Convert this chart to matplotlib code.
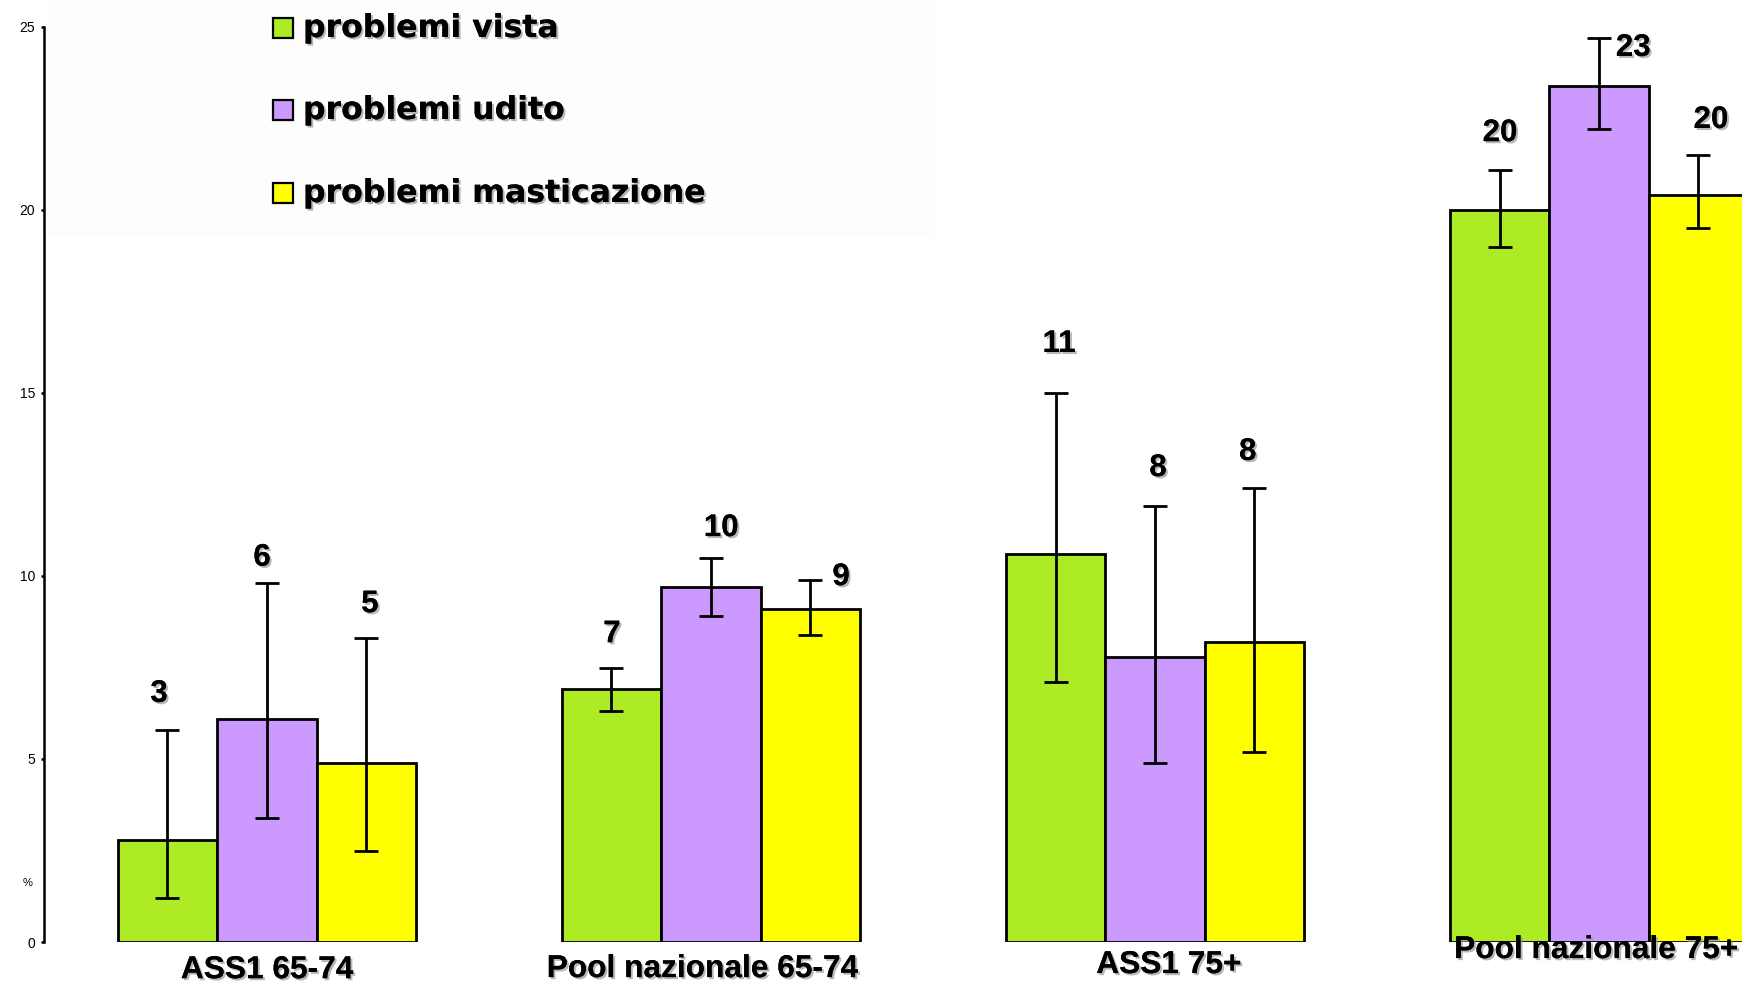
import numpy as np
import matplotlib
matplotlib.use("Agg")
import matplotlib.pyplot as plt
import matplotlib.patheffects as pe
from matplotlib.patches import Rectangle

plt.rcParams['font.family'] = ['Liberation Sans', 'DejaVu Sans']

# ---- data ----
categories = ["ASS1 65-74", "Pool nazionale 65-74", "ASS1 75+", "Pool nazionale 75+"]
series_names = ["problemi vista", "problemi udito", "problemi masticazione"]
vista = [2.8, 6.9, 10.6, 20.0]
vista_lo = [1.2, 6.3, 7.1, 19.0]
vista_hi = [5.8, 7.5, 15.0, 21.1]
udito = [6.1, 9.7, 7.8, 23.4]
udito_lo = [3.4, 8.9, 4.9, 22.2]
udito_hi = [9.8, 10.5, 11.9, 24.7]
mastic = [4.9, 9.1, 8.2, 20.4]
mastic_lo = [2.5, 8.4, 5.2, 19.5]
mastic_hi = [8.3, 9.9, 12.4, 21.5]
yticks = [0, 5, 10, 15, 20, 25]

colors = ["#ADEB24", "#CC99FF", "#FFFF00"]

# ---- layout (label placements) ----
label_dx = [[-0.019, 0.001, 0.008, 0.001],
            [-0.011, 0.023, 0.007, 0.077],
            [0.008, 0.069, -0.015, 0.028]]
label_y = [[6.78, 8.41, 16.34, 22.1],
           [10.5, 11.31, 12.95, 24.43],
           [9.23, 9.97, 13.39, 22.46]]
cat_y = [-0.77, -0.74, -0.63, -0.22]
cat_dx = [0.0, -0.019, 0.031, -0.006]

W, H = 1742, 984
fig = plt.figure(figsize=(W / 100, H / 100), dpi=100)
fig.patch.set_facecolor("white")

# very faint legend background
fig.patches.append(Rectangle((46 / W, 1 - 235 / H), (935 - 46) / W, 235 / H,
                             transform=fig.transFigure, facecolor="#fdfdfd",
                             edgecolor="none", zorder=-5))

ax = fig.add_axes([44 / W, 42 / H, 1 - 44 / W, 915 / H])
ax.set_facecolor("none")
ax.set_zorder(1)

x = np.arange(len(categories))
w = 0.224
data = [(vista, vista_lo, vista_hi), (udito, udito_lo, udito_hi), (mastic, mastic_lo, mastic_hi)]
shadow = [pe.withSimplePatchShadow(offset=(1.5, -1.5), shadow_rgbFace="#999999", alpha=0.7), pe.Normal()]

for i, (vals, lo, hi) in enumerate(data):
    vals = np.array(vals); lo = np.array(lo); hi = np.array(hi)
    pos = x + (i - 1) * w
    ax.bar(pos, vals, width=w, color=colors[i], edgecolor="black", linewidth=2, zorder=2)
    ax.errorbar(pos, vals, yerr=[vals - lo, hi - vals], fmt="none", ecolor="black",
                elinewidth=2, capsize=8.5, capthick=2, zorder=3)
    for j, v in enumerate(vals):
        ax.text(pos[j] + label_dx[i][j], label_y[i][j], f"{v:.0f}", ha="center", va="center",
                fontsize=22.5, fontweight="bold", path_effects=shadow, zorder=4)

for j, c in enumerate(categories):
    ax.text(x[j] + cat_dx[j], cat_y[j], c, ha="center", va="center", fontsize=22.8,
            fontweight="bold", path_effects=shadow, clip_on=False, zorder=5)

ax.set_xlim(-0.502, 3.322)
ax.set_ylim(0, 25)
ax.set_yticks(yticks)
ax.set_yticklabels([str(t) for t in yticks], fontsize=10)
ax.set_xticks([])
for s in ["top", "right", "bottom"]:
    ax.spines[s].set_visible(False)
ax.spines["left"].set_linewidth(1.8)
ax.tick_params(axis="y", length=2.5, width=1.8, pad=4)
ax.text(-0.538, 1.6, "%", fontsize=8, ha="center", va="center", transform=ax.transData,
        clip_on=False)

# legend
leg_y = [28, 110, 193]
leg_base = [37, 119, 202]
for i, name in enumerate(series_names):
    fig.patches.append(Rectangle((273 / W, 1 - (leg_y[i] + 10) / H), 20 / W, 20 / H,
                                 transform=fig.transFigure, facecolor=colors[i],
                                 edgecolor="black", linewidth=1.6, zorder=5))
    fig.text(303 / W, 1 - leg_base[i] / H, name, ha="left", va="baseline", fontsize=22.7,
             fontweight="bold", family=["DejaVu Sans"], path_effects=shadow)

fig.savefig("out.png", dpi=100)
